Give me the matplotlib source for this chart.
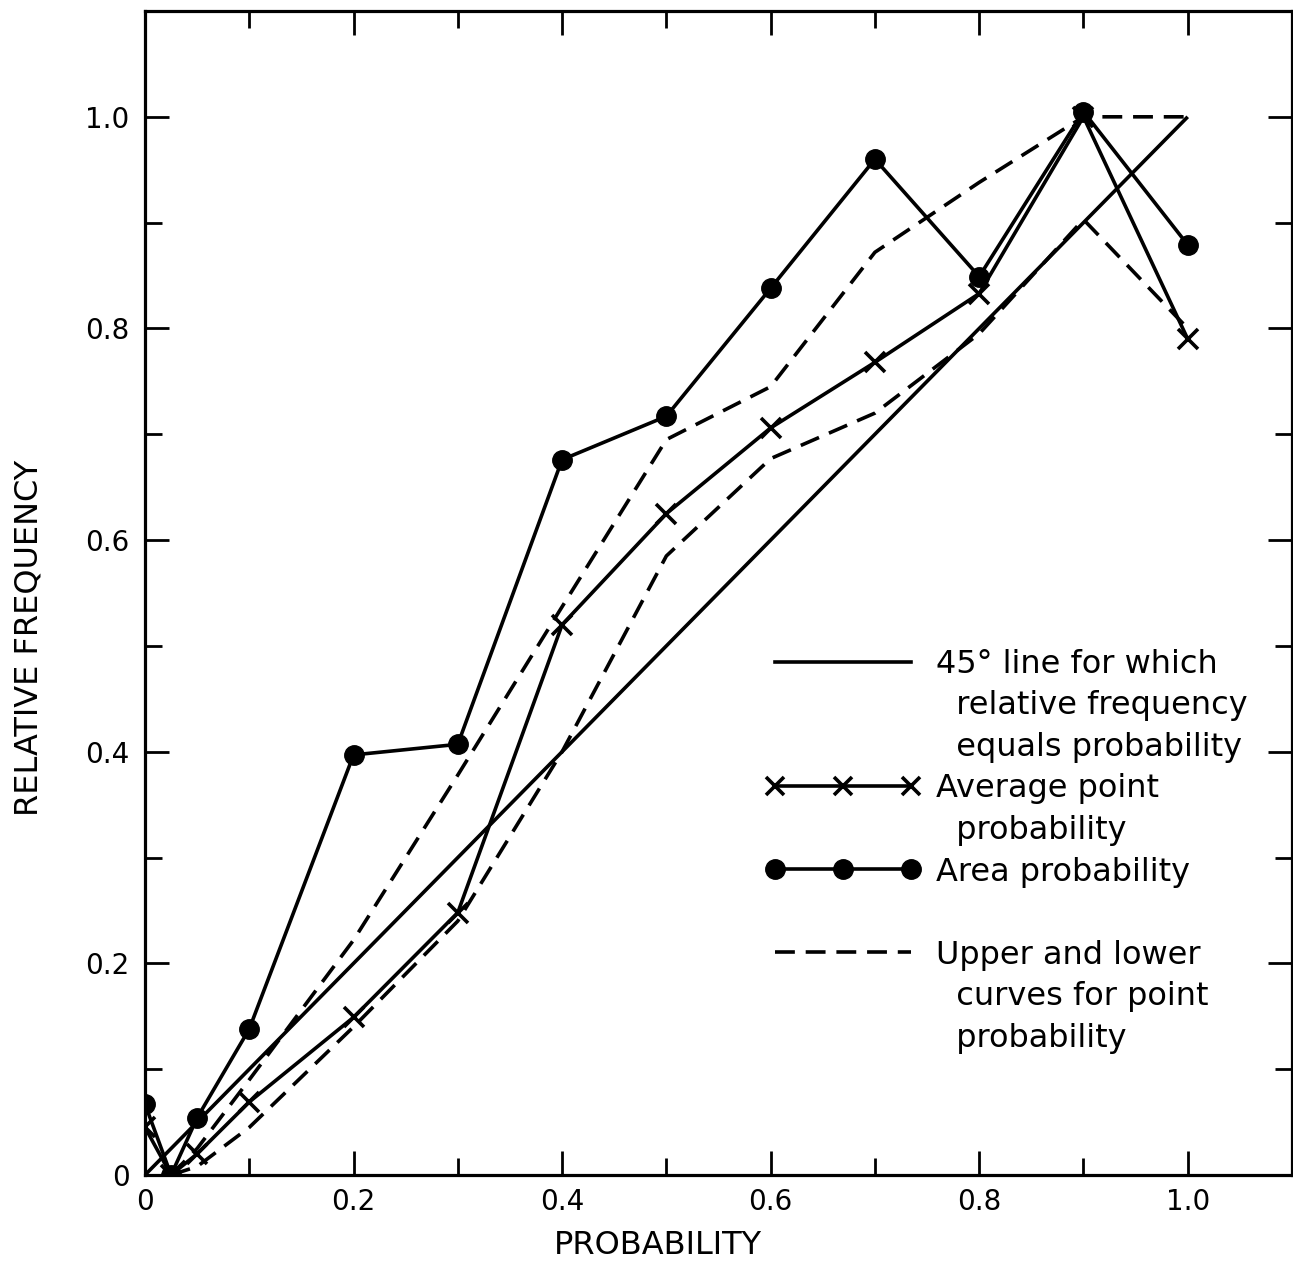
import matplotlib
matplotlib.use("Agg")
import matplotlib.pyplot as plt
from matplotlib.lines import Line2D
from matplotlib.legend_handler import HandlerLine2D
import numpy as np

plt.rcParams['font.family'] = ['DejaVu Sans']

# ---- data ----
prob = [0.0, 0.025, 0.05, 0.1, 0.2, 0.3, 0.4, 0.5, 0.6, 0.7, 0.8, 0.9, 1.0]
area_freq = [0.067, 0.0, 0.054, 0.138, 0.397, 0.407, 0.676, 0.717, 0.838, 0.960, 0.849, 1.005, 0.879]
avg_freq = [0.045, 0.0, 0.02, 0.069, 0.149, 0.248, 0.520, 0.625, 0.706, 0.768, 0.833, 1.0, 0.79]

curve_prob = [0.025, 0.05, 0.1, 0.2, 0.3, 0.4, 0.5, 0.6, 0.7, 0.8, 0.9, 1.0]
upper_freq = [0.0, 0.025, 0.09, 0.222, 0.378, 0.537, 0.695, 0.745, 0.872, 0.938, 1.0, 1.0]
lower_freq = [0.0, 0.008, 0.045, 0.14, 0.24, 0.40, 0.585, 0.677, 0.72, 0.795, 0.903, 0.80]

diag = [0.0, 1.0]

tick_vals = [0.0, 0.2, 0.4, 0.6, 0.8, 1.0]
tick_labels = ['0', '0.2', '0.4', '0.6', '0.8', '1.0']
minor_vals = [0.1, 0.3, 0.5, 0.7, 0.9]

legend_labels = [
    "45° line for which",
    "  relative frequency",
    "  equals probability",
    "Average point",
    "  probability",
    "Area probability",
    " ",
    "Upper and lower",
    "  curves for point",
    "  probability",
]

# ---- figure ----
W, H = 1293, 1261
fig = plt.figure(figsize=(W / 100, H / 100), dpi=100)
ax = fig.add_axes([145 / W, 1 - 1175 / H, (1292 - 145) / W, (1175 - 11) / H])

LW = 2.6
DASH = (5.5, 3.0)

ax.plot(diag, diag, color='k', lw=LW, solid_capstyle='butt')
ax.plot(curve_prob, upper_freq, color='k', lw=LW, dashes=DASH)
ax.plot(curve_prob, lower_freq, color='k', lw=LW, dashes=DASH)
ax.plot(prob, avg_freq, color='k', lw=LW, marker='x', markersize=15, markeredgewidth=2.6)
ax.plot(prob, area_freq, color='k', lw=LW, marker='o', markersize=14)

ax.set_xlim(0, 1.1)
ax.set_ylim(0, 1.1)

for sp in ax.spines.values():
    sp.set_linewidth(2.3)

ax.set_xticks(tick_vals)
ax.set_xticklabels(tick_labels)
ax.set_yticks(tick_vals)
ax.set_yticklabels(tick_labels)
ax.set_xticks(minor_vals, minor=True)
ax.set_yticks(minor_vals, minor=True)
ax.tick_params(which='both', direction='in', top=True, right=True, width=2.0, labelsize=20)
ax.tick_params(which='major', length=17)
ax.tick_params(which='minor', length=12)
ax.tick_params(axis='x', pad=9)
ax.tick_params(axis='y', pad=11)

ax.set_xlabel('PROBABILITY', fontsize=23)
ax.xaxis.set_label_coords((658 - 145) / 1147, -0.047)
ax.set_ylabel('RELATIVE FREQUENCY', fontsize=23)
ax.yaxis.set_label_coords(-0.088, (1175 - 638) / 1164)

# ---- legend ----
h45 = Line2D([], [], color='k', lw=LW)
hx = Line2D([], [], color='k', lw=LW, marker='x', markersize=13, markeredgewidth=2.6)
ho = Line2D([], [], color='k', lw=LW, marker='o', markersize=14)
hd = Line2D([], [], color='k', lw=LW, dashes=DASH)
blank = Line2D([], [], color='none')
handles = [h45, blank, blank, hx, blank, ho, blank, hd, blank, blank]

leg = ax.legend(handles, legend_labels, loc='upper left',
                bbox_to_anchor=((775 - 145) / 1147, 0.452),
                frameon=False, fontsize=23, borderpad=0, borderaxespad=0,
                handlelength=4.25, handletextpad=0.8, labelspacing=0.33,
                handler_map={hx: HandlerLine2D(marker_pad=0, numpoints=3),
                             ho: HandlerLine2D(marker_pad=0, numpoints=3)})

fig.savefig('out.png', dpi=100)
